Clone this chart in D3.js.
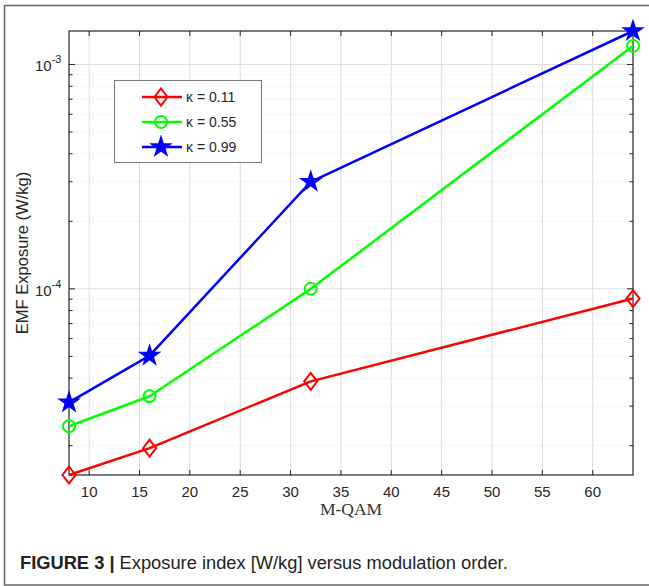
<!DOCTYPE html>
<html>
<head>
<meta charset="utf-8">
<script src="https://cdn.jsdelivr.net/npm/d3@7"></script>
<style>
  body { margin: 0; background: #fff; }
  svg { display: block; font-family: "Liberation Sans", Arial, sans-serif; }
</style>
</head>
<body>
<svg id="chart" width="649" height="586"></svg>
<script>
// data
const mqam = [8, 16, 32, 64];
const kappa011 = [1.48e-5, 1.95e-5, 3.87e-5, 9.05e-5];
const kappa055 = [2.44e-5, 3.32e-5, 1.0e-4, 1.21e-3];
const kappa099 = [3.12e-5, 5.04e-5, 3.0e-4, 1.41e-3];
const seriesNames = ["\u03BA = 0.11", "\u03BA = 0.55", "\u03BA = 0.99"];
const xTicks = [10, 15, 20, 25, 30, 35, 40, 45, 50, 55, 60];
const yDecades = [1e-4, 1e-3];
const yDecadeLabels = ["-4", "-3"];

const STYLE = {
    colors: ["#ff0000", "#00ff00", "#0000ff"],
    markers: ["diamond", "circle", "star"],
    grid: "#dcdcdc",
    axis: "#262626"
};

const svg = d3.select("#chart");
const W = 649, H = 586;
const plot = { left: 69, top: 31, right: 633, bottom: 475 };

// outer figure frame (left, top, bottom)
svg.append("path")
    .attr("d", `M${W},5.5 H4.5 V585 H${W}`)
    .attr("fill", "none")
    .attr("stroke", "#666")
    .attr("stroke-width", 1.5);

const x = d3.scaleLinear().domain([8, 64]).range([plot.left, plot.right]);
const allY = kappa011.concat(kappa055, kappa099);
const y = d3.scaleLog().domain([d3.min(allY), d3.max(allY)]).range([plot.bottom, plot.top]);

// minor log ticks
const minorY = [];
[1e-5, 1e-4, 1e-3].forEach(dec => {
    for (let k = 2; k <= 9; k++) {
        const v = dec * k;
        if (v >= y.domain()[0] && v <= y.domain()[1]) minorY.push(v);
    }
});

const g = svg.append("g");

// grid
g.append("g").selectAll("line").data(minorY).join("line")
    .attr("x1", plot.left).attr("x2", plot.right)
    .attr("y1", d => y(d)).attr("y2", d => y(d))
    .attr("stroke", STYLE.grid).attr("stroke-width", 1)
    .attr("stroke-dasharray", "1,3");

g.append("g").selectAll("line").data(xTicks).join("line")
    .attr("x1", d => x(d)).attr("x2", d => x(d))
    .attr("y1", plot.top).attr("y2", plot.bottom)
    .attr("stroke", STYLE.grid).attr("stroke-width", 1);

g.append("g").selectAll("line").data(yDecades).join("line")
    .attr("x1", plot.left).attr("x2", plot.right)
    .attr("y1", d => y(d)).attr("y2", d => y(d))
    .attr("stroke", STYLE.grid).attr("stroke-width", 1);

// ticks (inward, on all four sides)
const ticks = g.append("g").attr("stroke", STYLE.axis).attr("stroke-width", 1);
xTicks.forEach(t => {
    ticks.append("line").attr("x1", x(t)).attr("x2", x(t)).attr("y1", plot.bottom).attr("y2", plot.bottom - 5);
    ticks.append("line").attr("x1", x(t)).attr("x2", x(t)).attr("y1", plot.top).attr("y2", plot.top + 5);
});
yDecades.forEach(t => {
    ticks.append("line").attr("x1", plot.left).attr("x2", plot.left + 6).attr("y1", y(t)).attr("y2", y(t));
    ticks.append("line").attr("x1", plot.right).attr("x2", plot.right - 6).attr("y1", y(t)).attr("y2", y(t));
});
minorY.forEach(t => {
    ticks.append("line").attr("x1", plot.left).attr("x2", plot.left + 3.5).attr("y1", y(t)).attr("y2", y(t));
    ticks.append("line").attr("x1", plot.right).attr("x2", plot.right - 3.5).attr("y1", y(t)).attr("y2", y(t));
});

// axis box
g.append("rect")
    .attr("x", plot.left).attr("y", plot.top)
    .attr("width", plot.right - plot.left).attr("height", plot.bottom - plot.top)
    .attr("fill", "none").attr("stroke", STYLE.axis).attr("stroke-width", 1.2);

// tick labels
g.append("g").selectAll("text").data(xTicks).join("text")
    .attr("x", d => x(d)).attr("y", plot.bottom + 22)
    .attr("text-anchor", "middle")
    .attr("font-size", 15).attr("fill", "#262626")
    .text(d => d);

const yl = g.append("g").selectAll("text").data(yDecades).join("text")
    .attr("x", 35).attr("y", d => y(d) + 7)
    .attr("font-size", 15).attr("fill", "#262626");
yl.append("tspan").text("10");
yl.append("tspan").attr("dy", -8).attr("font-size", 11).text((d, i) => yDecadeLabels[i]);

// axis labels
svg.append("text")
    .attr("x", (plot.left + plot.right) / 2).attr("y", 515)
    .attr("text-anchor", "middle")
    .attr("font-family", "'Liberation Serif', 'DejaVu Serif', serif")
    .attr("font-size", 17.5).attr("fill", "#333")
    .text("M-QAM");

svg.append("text")
    .attr("transform", `translate(28,${(plot.top + plot.bottom) / 2}) rotate(-90)`)
    .attr("text-anchor", "middle")
    .attr("font-size", 16.5).attr("fill", "#262626")
    .text("EMF Exposure (W/kg)");

// markers
function markerPath(type) {
    if (type === "diamond") return "M0,-8.5 L6.5,0 L0,8.5 L-6.5,0 Z";
    if (type === "circle") return d3.symbol(d3.symbolCircle, 113)();
    return d3.symbol(d3.symbolStar, 95)();
}

const series = [kappa011, kappa055, kappa099];
const line = d3.line().x((d, i) => x(mqam[i])).y(d => y(d));

series.forEach((vals, si) => {
    const sg = g.append("g");
    sg.append("path")
        .attr("d", line(vals))
        .attr("fill", "none")
        .attr("stroke", STYLE.colors[si])
        .attr("stroke-width", 2.5)
        .attr("stroke-linejoin", "round");
    sg.selectAll("path.m").data(vals).join("path")
        .attr("class", "m")
        .attr("transform", (d, i) => `translate(${x(mqam[i])},${y(d)})`)
        .attr("d", markerPath(STYLE.markers[si]))
        .attr("fill", STYLE.markers[si] === "star" ? STYLE.colors[si] : "none")
        .attr("stroke", STYLE.colors[si])
        .attr("stroke-width", 2);
});

// legend
const leg = svg.append("g");
leg.append("rect")
    .attr("x", 114.5).attr("y", 80.5).attr("width", 147).attr("height", 82)
    .attr("fill", "#fff").attr("stroke", "#777").attr("stroke-width", 1);
seriesNames.forEach((name, i) => {
    const ly = 97 + i * 25;
    leg.append("line")
        .attr("x1", 142).attr("x2", 182).attr("y1", ly).attr("y2", ly)
        .attr("stroke", STYLE.colors[i]).attr("stroke-width", 2.5);
    leg.append("path")
        .attr("transform", `translate(161,${ly})`)
        .attr("d", markerPath(STYLE.markers[i]))
        .attr("fill", STYLE.markers[i] === "star" ? STYLE.colors[i] : "none")
        .attr("stroke", STYLE.colors[i]).attr("stroke-width", 2);
    leg.append("text")
        .attr("x", 186).attr("y", ly + 5)
        .attr("font-size", 14).attr("fill", "#262626")
        .text(name);
});

// caption
const cap = svg.append("text")
    .attr("x", 20).attr("y", 569)
    .attr("font-size", 18.3).attr("fill", "#222");
cap.append("tspan").attr("font-weight", "bold").text("FIGURE 3 | ");
cap.append("tspan").text("Exposure index [W/kg] versus modulation order.");
</script>
</body>
</html>
